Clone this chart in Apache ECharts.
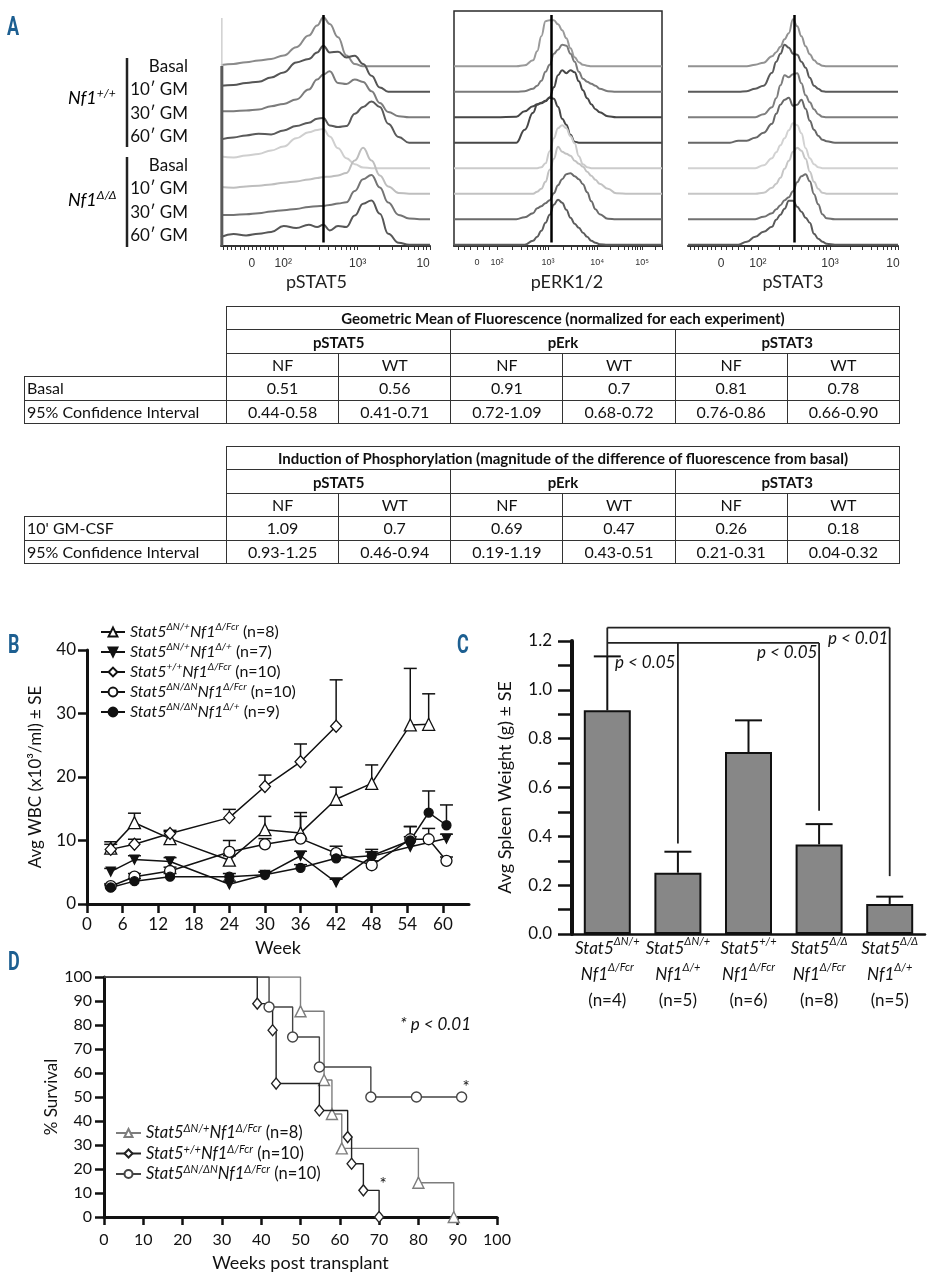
<!DOCTYPE html>
<html><head><meta charset="utf-8"><title>Figure</title>
<script src="https://cdn.jsdelivr.net/npm/echarts@6.0.0/dist/echarts.min.js"></script>
<style>
html,body{margin:0;padding:0;background:#fff;width:943px;height:1280px;overflow:hidden;}
#chart{position:absolute;left:0;top:0;width:943px;height:1280px;}
table.t{position:absolute;left:24px;width:875px;border-collapse:collapse;table-layout:fixed;font-family:Lato,"Open Sans",sans-serif;font-size:16px;color:#111;}
table.t td{border:1.5px solid #333;padding:0;text-align:center;white-space:nowrap;overflow:hidden;line-height:20px;}
table.t tr{height:23.4px;}
table.t td.e{border:none;}
table.t td.b{font-weight:bold;font-size:15px;}
table.t td.l{text-align:left;padding-left:2px;}
</style></head><body>
<div id="chart"></div>
<div id="tables"></div>
<script>
// ---------------- DATA ----------------
// Panel A histograms (heights above each trace's baseline; x in relative channel units 0-100)
const rowLabels = ['Basal', '10\u2032 GM', '30\u2032 GM', '60\u2032 GM', 'Basal', '10\u2032 GM', '30\u2032 GM', '60\u2032 GM'];
const stat5X = [0,6,12,18,24,30,36,42,46,49,52,56,60,64,68,72,76,80,85,90,95,100];
const stat5Traces = [
  [1.3,2.3,4,5.7,7.3,10.7,19,30.7,40.7,49,42.3,29,10.7,2.3,0,0,0,0,0,0,0,0],
  [6,6.7,8.7,10,14.3,19.3,29.3,32.7,39.3,46,39.3,40,34.3,36,27.7,16,4.3,0,0,0,0,0],
  [6,6,6.7,7.7,11,13.3,17.7,27.7,37.7,42.7,46,34.3,33.3,37.7,35.3,26,14.3,5.3,1,0,0,0],
  [3.3,5.3,7.3,9,8.3,12.3,16.7,20,24,24.7,17.3,15.7,16.7,29,35.7,41.3,35.7,19,5.7,0,0,0],
  [11.7,10.7,12.7,14.3,17.7,21.7,30,36,38.3,39.3,31.7,20,10,4,0.7,0,0,0,0,0,0,0],
  [6.7,6,7.3,8,9.3,11,12.3,14.3,15.7,16.7,17,18.3,20.7,33.3,46,33.3,18.3,7.3,0.7,0,0,0],
  [4.3,4.3,5,6,7.7,9,10.3,12.3,13,13.3,14.3,15.7,17,28.3,40,44.3,31.7,16.7,4.3,0.7,0,0],
  [7.7,10.7,9.3,11,12.7,18.7,16.7,20,17.7,20,14.3,18.7,17.7,29.3,41,44.3,31,11,2,0,0,0]
];
const stat5SpikeX = [0.4,0.4,0.4];
const stat5SpikeY = [0,180,228];
const erkX = [0,20,30,34,38,40,42,44,46,48,50,52,54,56,58,60,62,64,66,68,70,74,78,84,100];
const erkTraces = [
  [0,0,0,1,6,15,30,45,46,46,42,36,28,18,9,4,1.5,0.5,0,0,0,0,0,0,0],
  [0,0,0,0.5,3,6,11,20,27,38,42,47,46,38,30,20,13,10,8,6,3,0.5,0,0,0],
  [0,0,0.5,6,11,13,14,16,20,30,42,47,44,47,45,36,27,19,13,8,5,1,0,0,0],
  [0,0,0,13,30,38,40,42,45,44,36,24,18,8,1,0,0,0,0,0,0,0,0,0,0],
  [0,0,0,0,0,0,1,5,17,30,40,43,40,32,25,12,4,1,0,0,0,0,0,0,0],
  [0,0,0,0,0,2,5,12,24,35,47,42,40,38,33,30,27,22,18,14,10,5,0.5,0,0],
  [0,0,0,2,6,11,13,16,19,26,34,40,45,46,43,40,35,27,18,10,5,0.5,0,0,0],
  [0,0,0,0,4,8,14,22,30,40,45,42,35,27,21,17,12,8,4,2,0.5,0,0,0,0]
];
const stat3X = [0,20,24,28,32,36,40,42,44,46,48,50,52,54,56,58,60,62,64,66,70,100];
const stat3Traces = [
  [0,0,0,0,1.5,3.5,10,14,19.5,27,33,47,40,30,20,12,6,2.5,0.5,0,0,0],
  [0,0,0,0.5,3,6,19,30,38,47,44,38,37,30,24,14,6,3,0.5,0,0,0],
  [0,0,0,0,0,3,10,19,32,42,40,43,44,34,22,15,8,3,0.5,0,0,0],
  [0,0,2,2,5,10,19,29,38,43,45,37,38,43,34,22,13,7,3,1.5,0,0],
  [0,0,0,0,0,3,10,16,23,30,38,45,43,35,20,10,4,1,0,0,0,0],
  [0,0,0,0,0,1,6,10,16,25,33,42,46,43,35,22,12,5,1,0,0,0],
  [0,0,0,0,0,2.5,6,10,14,19,22,28,37,43,45,38,25,15,5,1,0,0],
  [0,0,0,3,8,13,18,25,30,36,44,44,38,33,27,22,11,6,3,1,0,0]
];
const medianX = [49, 46.6, 50.8];
const medianY = [3.5, 231];
const stat5Ticks = [1,3,5,7,9,11,13,15,17,19,21,23,25,27,29.8,40.5,46.8,51.2,54.7,57.5,59.9,62,63.8,65.4,75.8,81.9,86.2,89.6,92.3,94.6,96.6,98.4,100];
const stat5LabelX = [14.8,29.8,65.4,96.7];
const stat5Labels = ['0','10\u00b2','10\u00b3','10'];
const erkTicks = [2,5,8,11,14,17,20.7,28.1,32.4,35.4,37.8,39.8,41.4,42.8,44,45.2,52.3,56.5,59.4,61.7,63.6,65.1,66.5,67.6,68.8,75.3,79.1,81.8,83.9,85.6,87.1,88.3,89.4,90.4,96.9,100];
const erkLabelX = [11,20.7,45.2,68.8,90.4];
const erkLabels = ['0','10\u00b2','10\u00b3','10\u2074','10\u2075'];
const stat3Ticks = [1,3,5,7,9,11,13,15.7,18,21,24,27,30,33.3,43.6,49.7,53.9,57.3,60,62.3,64.3,66,67.6,77.4,83.1,87.1,90.2,92.8,94.9,96.8,98.5,100];
const stat3LabelX = [15.7,33.3,67.6,97.6];
const stat3Labels = ['0','10\u00b2','10\u00b3','10'];
const histNames = ['pSTAT5','pERK1/2','pSTAT3'];

// Tables
const tableGroups = ['pSTAT5','pErk','pSTAT3'];
const tableSubs = ['NF','WT'];
const t1Title = 'Geometric Mean of Fluorescence (normalized for each experiment)';
const t1Rows = ['Basal','95% Confidence Interval'];
const t1Values = [['0.51','0.56','0.91','0.7','0.81','0.78'],['0.44-0.58','0.41-0.71','0.72-1.09','0.68-0.72','0.76-0.86','0.66-0.90']];
const t2Title = 'Induction of Phosphorylation (magnitude of the difference of fluorescence from basal)';
const t2Rows = ['10\' GM-CSF','95% Confidence Interval'];
const t2Values = [['1.09','0.7','0.69','0.47','0.26','0.18'],['0.93-1.25','0.46-0.94','0.19-1.19','0.43-0.51','0.21-0.31','0.04-0.32']];

// Panel B (WBC)
const weekTicks = [0,6,12,18,24,30,36,42,48,54,60];
const bGeno = [['Stat5','\u0394N/+','Nf1','\u0394/Fcr'],['Stat5','\u0394N/+','Nf1','\u0394/+'],['Stat5','+/+','Nf1','\u0394/Fcr'],['Stat5','\u0394N/\u0394N','Nf1','\u0394/Fcr'],['Stat5','\u0394N/\u0394N','Nf1','\u0394/+']];
const bN = ['(n=8)','(n=7)','(n=10)','(n=10)','(n=9)'];
const bWeeks = [
  [4,8,14,24,30,36,42,48,54.5,57.6],
  [4,8,14,24,30,36,42,48,54.5,60.6],
  [4,8,14,24,30,36,42],
  [4,8,14,24,30,36,42,48,54.5,57.6,60.6],
  [4,8,14,24,30,36,42,48,54.5,57.6,60.6]
];
const bWbc = [
  [8.8,12.8,10.3,6.9,11.7,11.2,16.5,19.0,28.2,28.3],
  [5.1,7.0,6.7,3.1,4.6,7.6,3.4,7.5,9.0,10.3],
  [8.6,9.4,11.1,13.6,18.5,22.4,28.0],
  [2.8,4.3,5.2,8.2,9.4,10.3,8.0,6.1,10.2,10.2,6.8],
  [2.6,3.6,4.3,4.3,4.6,5.7,7.2,7.6,10.0,14.4,12.4]
];
const bSeTop = [
  [9.8,14.3,11.4,7.6,13.8,14.4,18.4,21.9,37.1,33.1],
  [5.6,7.6,7.3,3.6,5.1,8.3,3.9,8.2,10.6,11.0],
  [9.4,10.2,11.6,14.9,20.3,25.2,35.3],
  [3.2,4.8,5.8,10.0,10.3,13.8,9.1,6.8,12.2,11.9,7.4],
  [3.0,4.0,4.8,4.8,5.0,6.2,7.8,8.6,12.2,17.8,15.6]
];

// Panel C (spleen)
const cGeno = [['Stat5','\u0394N/+','Nf1','\u0394/Fcr'],['Stat5','\u0394N/+','Nf1','\u0394/+'],['Stat5','+/+','Nf1','\u0394/Fcr'],['Stat5','\u0394/\u0394','Nf1','\u0394/Fcr'],['Stat5','\u0394/\u0394','Nf1','\u0394/+']];
const cN = ['(n=4)','(n=5)','(n=6)','(n=8)','(n=5)'];
const spleenMean = [0.916,0.251,0.745,0.367,0.123];
const spleenSeTop = [1.137,0.337,0.875,0.450,0.153];
const bracketH = [[0,4,1.255],[0,3,1.192]];                       // [fromBar, toBar, level]
const bracketV = [[0,1.255,1.137],[4,1.255,0.237],[1,1.192,0.371],[3,1.192,0.505]]; // [bar, top, bottom]
const pLabels = ['p < 0.05','p < 0.05','p < 0.01'];

// Panel D (survival)
const dGeno = [['Stat5','\u0394N/+','Nf1','\u0394/Fcr'],['Stat5','+/+','Nf1','\u0394/Fcr'],['Stat5','\u0394N/\u0394N','Nf1','\u0394/Fcr']];
const dN = ['(n=8)','(n=10)','(n=10)'];
const dWeeks = [[0,50,56,58,60.5,80,89],[0,39,42.9,43.8,54.8,62,63,66,70],[0,42,48,54.8,67.9,79.5,91]];
const dSurvival = [[100,85.7,57.1,42.9,28.6,14.3,0],[100,88.9,77.8,55.6,44.4,33.3,22.2,11.1,0],[100,87.5,75,62.5,50,50,50]];

// ---------------- TABLES ----------------
function buildTable(top, title, rows, values){
  let h = '<table class="t" style="top:' + top + 'px">';
  h += '<colgroup><col style="width:202px">' + '<col style="width:112.17px">'.repeat(6) + '</colgroup>';
  h += '<tr><td class="e"></td><td colspan="6" class="b">' + title + '</td></tr>';
  h += '<tr><td class="e"></td>' + tableGroups.map(g => '<td colspan="2" class="b">' + g + '</td>').join('') + '</tr>';
  h += '<tr><td class="e"></td>' + tableGroups.map(() => tableSubs.map(s => '<td>' + s + '</td>').join('')).join('') + '</tr>';
  rows.forEach((r, k) => { h += '<tr><td class="l">' + r + '</td>' + values[k].map(v => '<td>' + v + '</td>').join('') + '</tr>'; });
  return h + '</table>';
}
document.getElementById('tables').innerHTML = buildTable(306, t1Title, t1Rows, t1Values) + buildTable(446, t2Title, t2Rows, t2Values);

// ---------------- CHART ----------------
const F = 'Lato, "Open Sans", sans-serif';
const INK = '#111';
function richSet(size, lh){
  return {
    i: {fontFamily: F, fontStyle: 'italic', fontSize: size, color: INK, lineHeight: lh},
    s: {fontFamily: F, fontStyle: 'italic', fontSize: Math.round(size * 0.64), color: INK, verticalAlign: 'top', lineHeight: Math.round(lh * 0.5)},
    n: {fontFamily: F, fontSize: size, color: INK, lineHeight: lh}
  };
}
function geno(p){ return '{i|' + p[0] + '}{s|' + p[1] + '}{i|' + p[2] + '}{s|' + p[3] + '}'; }
function nearestLabel(v, xs, labs){ let b = 0; xs.forEach((x, k) => { if (Math.abs(x - v) < Math.abs(xs[b] - v)) b = k; }); return labs[b]; }

const chart = echarts.init(document.getElementById('chart'), null, {width: 943, height: 1280});

const grids = [
  {left: 221, top: 11, width: 209, height: 235},
  {left: 454, top: 11, width: 208, height: 235, show: true, borderColor: '#2a2a2a', borderWidth: 1.5, backgroundColor: 'transparent'},
  {left: 688, top: 11, width: 210, height: 235},
  {left: 87, top: 650, width: 382, height: 254},
  {left: 572, top: 641, width: 353, height: 293},
  {left: 104, top: 977, width: 393, height: 240}
];

function histX(gi, ticks, labX, labs, name, fs, pad){
  return {type: 'value', gridIndex: gi, min: 0, max: 100, splitLine: {show: false},
    axisLine: {show: true, lineStyle: {color: '#333', width: 2}},
    axisTick: {show: true, customValues: ticks, length: 4, lineStyle: {color: '#333', width: 1}},
    axisLabel: {customValues: labX, formatter: v => nearestLabel(v, labX, labs), fontSize: fs, color: '#333', margin: 12, fontFamily: 'Liberation Sans, Arial, sans-serif'},
    name: name, nameLocation: 'middle', nameGap: 27, nameTextStyle: {fontSize: 18, color: '#222', fontFamily: F, padding: pad}};
}
const xAxes = [
  histX(0, stat5Ticks, stat5LabelX, stat5Labels, histNames[0], 12, [0, 18, 0, 0]),
  histX(1, erkTicks, erkLabelX, erkLabels, histNames[1], 9, [0, 0, 0, 18]),
  histX(2, stat3Ticks, stat3LabelX, stat3Labels, histNames[2], 12, [0, 0, 0, 0]),
  {type: 'value', gridIndex: 3, min: 0, max: 64.4, splitLine: {show: false},
    axisLine: {show: true, onZero: false, lineStyle: {color: INK, width: 3}},
    axisTick: {show: true, customValues: weekTicks, length: 9, lineStyle: {color: INK, width: 2.5}},
    axisLabel: {customValues: weekTicks, fontSize: 17, color: INK, margin: 12},
    name: 'Week', nameLocation: 'middle', nameGap: 35, nameTextStyle: {fontSize: 18, color: INK}},
  {type: 'category', gridIndex: 4, data: cGeno.map((g, k) => 'C' + k),
    axisLine: {show: true, lineStyle: {color: INK, width: 2.5}}, axisTick: {show: false},
    axisLabel: {interval: 0, margin: 2, formatter: (v, idx) => '{i|' + cGeno[idx][0] + '}{s|' + cGeno[idx][1] + '}\n{i|' + cGeno[idx][2] + '}{s|' + cGeno[idx][3] + '}\n{n|' + cN[idx] + '}', rich: richSet(17, 26)}},
  {type: 'value', gridIndex: 5, min: 0, max: 100, interval: 10, splitLine: {show: false},
    axisLine: {show: true, onZero: false, lineStyle: {color: INK, width: 3}},
    axisTick: {show: true, length: 8, lineStyle: {color: INK, width: 2.5}},
    axisLabel: {fontSize: 16, color: INK, margin: 15},
    name: 'Weeks post transplant', nameLocation: 'middle', nameGap: 37, nameTextStyle: {fontSize: 18, color: INK}}
];
const yAxes = [
  {type: 'value', gridIndex: 0, min: 0, max: 235, show: false},
  {type: 'value', gridIndex: 1, min: 0, max: 235, show: false},
  {type: 'value', gridIndex: 2, min: 0, max: 235, show: false},
  {type: 'value', gridIndex: 3, min: 0, max: 40, interval: 10, splitLine: {show: false},
    axisLine: {show: true, lineStyle: {color: INK, width: 3}},
    axisTick: {show: true, length: 9, lineStyle: {color: INK, width: 2.5}},
    axisLabel: {fontSize: 17, color: INK, margin: 11},
    name: 'Avg WBC (x10\u00b3/ml) \u00b1 SE', nameLocation: 'middle', nameGap: 43, nameTextStyle: {fontSize: 17, color: INK}},
  {type: 'value', gridIndex: 4, min: 0, max: 1.2, interval: 0.2, splitLine: {show: false},
    axisLine: {show: true, lineStyle: {color: INK, width: 4}},
    axisTick: {show: true, length: 14, lineStyle: {color: INK, width: 2.5}},
    minorTick: {show: true, splitNumber: 2, length: 14, lineStyle: {color: INK, width: 2.5}},
    axisLabel: {fontSize: 17, color: INK, margin: 20, formatter: v => v.toFixed(1)},
    name: 'Avg Spleen Weight (g) \u00b1 SE', nameLocation: 'middle', nameGap: 58, nameTextStyle: {fontSize: 18, color: INK}},
  {type: 'value', gridIndex: 5, min: 0, max: 100, interval: 10, splitLine: {show: false},
    axisLine: {show: true, lineStyle: {color: INK, width: 3}},
    axisTick: {show: true, length: 9, lineStyle: {color: INK, width: 2.5}},
    axisLabel: {fontSize: 16, color: INK, margin: 12},
    name: '% Survival', nameLocation: 'middle', nameGap: 40, nameTextStyle: {fontSize: 17, color: INK}}
];

const series = [];
const histColors = [
  ['#8a8a8a','#555555','#7c7c7c','#5a5a5a','#cfcfcf','#bebebe','#747474','#575757'],
  ['#9a9a9a','#7a7a7a','#474747','#474747','#cbcbcb','#c2c2c2','#6a6a6a','#5c5c5c'],
  ['#929292','#5a5a5a','#7e7e7e','#676767','#d2d2d2','#c6c6c6','#717171','#5a5a5a']
];
const rowGap = 25.5;
[[stat5X, stat5Traces], [erkX, erkTraces], [stat3X, stat3Traces]].forEach((h, p) => {
  h[1].forEach((tr, i) => {
    const base = (7 - i) * rowGap + 1.3;
    const s = {type: 'line', xAxisIndex: p, yAxisIndex: p, data: h[0].map((x, j) => [x, base + tr[j]]),
      symbol: 'none', smooth: 0.45, smoothMonotone: 'x', silent: true, lineStyle: {color: histColors[p][i], width: 2}, z: 2};
    if (i === 7) {
      s.markLine = {silent: true, symbol: 'none', label: {show: false}, lineStyle: {color: '#000', width: 2.5, type: 'solid'},
        data: [[{coord: [medianX[p], medianY[0]]}, {coord: [medianX[p], medianY[1]]}]]};
    }
    series.push(s);
  });
});
series.push({type: 'line', xAxisIndex: 0, yAxisIndex: 0, symbol: 'none', silent: true, z: 3,
  data: [[stat5SpikeX[0], stat5SpikeY[0]], [stat5SpikeX[1], stat5SpikeY[1]]], lineStyle: {color: '#5a5a5a', width: 3}});
series.push({type: 'line', xAxisIndex: 0, yAxisIndex: 0, symbol: 'none', silent: true, z: 3,
  data: [[stat5SpikeX[1], stat5SpikeY[1]], [stat5SpikeX[2], stat5SpikeY[2]]], lineStyle: {color: '#cfcfcf', width: 1.5}});

// error bar renderer
function errRender(capHalf, lw){
  return function(params, api){
    const p = api.coord([api.value(0), api.value(1)]);
    const q = api.coord([api.value(0), api.value(2)]);
    return {type: 'group', children: [
      {type: 'line', shape: {x1: p[0], y1: p[1], x2: q[0], y2: q[1]}, style: {stroke: INK, lineWidth: lw}},
      {type: 'line', shape: {x1: q[0] - capHalf, y1: q[1], x2: q[0] + capHalf, y2: q[1]}, style: {stroke: INK, lineWidth: lw}}
    ]};
  };
}

// Panel B
const bNames = bGeno.map((g, k) => 'B' + k);
const bSymbols = ['triangle', 'path://M0,0L10,0L5,9Z', 'diamond', 'circle', 'circle'];
const bSizes = [12, 9, [11, 12], 11, 9];
const bFill = ['#fff', INK, '#fff', '#fff', INK];
bWeeks.forEach((xs, k) => {
  series.push({type: 'custom', xAxisIndex: 3, yAxisIndex: 3, silent: true, z: 3, renderItem: errRender(6.5, 1.5),
    encode: {x: 0, y: [1, 2]}, data: xs.map((x, j) => [x, bWbc[k][j], bSeTop[k][j]])});
  series.push({type: 'line', name: bNames[k], xAxisIndex: 3, yAxisIndex: 3, data: xs.map((x, j) => [x, bWbc[k][j]]),
    symbol: bSymbols[k], symbolSize: bSizes[k], showAllSymbol: true,
    lineStyle: {color: INK, width: 1.5}, itemStyle: {color: bFill[k], borderColor: INK, borderWidth: 1.3}, z: 5});
});

// Panel C
series.push({type: 'bar', xAxisIndex: 4, yAxisIndex: 4, data: spleenMean, barWidth: 47, silent: true,
  itemStyle: {color: '#878787', borderColor: INK, borderWidth: 2}, z: 2});
series.push({type: 'custom', xAxisIndex: 4, yAxisIndex: 4, silent: true, z: 3, renderItem: errRender(13.5, 2),
  encode: {x: 0, y: [1, 2]}, data: spleenMean.map((m, k) => [k, m, spleenSeTop[k]])});
series.push({type: 'custom', xAxisIndex: 4, yAxisIndex: 4, silent: true, z: 4, clip: false,
  encode: {x: [0, 1], y: 2}, data: bracketH,
  renderItem: (params, api) => {
    const a = api.coord([api.value(0), api.value(2)]), b = api.coord([api.value(1), api.value(2)]);
    return {type: 'line', shape: {x1: a[0], y1: a[1], x2: b[0], y2: b[1]}, style: {stroke: '#222', lineWidth: 1.8}};
  }});
series.push({type: 'custom', xAxisIndex: 4, yAxisIndex: 4, silent: true, z: 4, clip: false,
  encode: {x: 0, y: [1, 2]}, data: bracketV,
  renderItem: (params, api) => {
    const a = api.coord([api.value(0), api.value(1)]), b = api.coord([api.value(0), api.value(2)]);
    return {type: 'line', shape: {x1: a[0], y1: a[1], x2: b[0], y2: b[1]}, style: {stroke: '#222', lineWidth: 1.8}};
  }});

// Panel D
const dNames = dGeno.map((g, k) => 'D' + k);
const dSymbols = ['triangle', 'diamond', 'circle'];
const dSizes = [11, [9, 11], 10];
const dColors = ['#7d7d7d', '#222', '#444'];
dWeeks.forEach((xs, k) => {
  series.push({type: 'line', name: dNames[k], xAxisIndex: 5, yAxisIndex: 5, step: 'end',
    data: xs.map((x, j) => j === 0 ? {value: [x, dSurvival[k][j]], symbol: 'none'} : [x, dSurvival[k][j]]),
    symbol: dSymbols[k], symbolSize: dSizes[k], showAllSymbol: true,
    lineStyle: {color: dColors[k], width: 1.4}, itemStyle: {color: '#fff', borderColor: dColors[k], borderWidth: 1.4}, z: 5 + k});
});

// legends
const legendB = {data: bNames, left: 100, top: 622, orient: 'vertical', itemGap: 2, itemWidth: 24, itemHeight: 11, padding: 0,
  selectedMode: false, formatter: name => { const k = bNames.indexOf(name); return geno(bGeno[k]) + '{n| ' + bN[k] + '}'; },
  textStyle: {fontSize: 16, rich: richSet(16, 20)}};
const legendD = {data: dNames, left: 115, top: 1123, orient: 'vertical', itemGap: 2, itemWidth: 25, itemHeight: 10, padding: 0,
  selectedMode: false, formatter: name => { const k = dNames.indexOf(name); return geno(dGeno[k]) + '{n| ' + dN[k] + '}'; },
  textStyle: {fontSize: 16.5, rich: richSet(16.5, 20)}};

// graphics (labels / annotations)
const graphic = [];
[['A', 7, 29], ['B', 8, 647], ['C', 457, 647], ['D', 8, 964]].forEach(l => graphic.push({type: 'text', x: l[1], y: l[2], scaleX: 0.72,
  style: {text: l[0], fontFamily: 'Roboto, sans-serif', fontWeight: 'bold', fontSize: 25, fill: '#1d5f91', align: 'left', verticalAlign: 'middle'}}));
rowLabels.forEach((t, k) => graphic.push({type: 'text', x: 188, y: (k < 4 ? 66.7 + k * 23.3 : 165.7 + (k - 4) * 23.3),
  style: {text: t, fontFamily: F, fontSize: 17, fill: INK, align: 'right', verticalAlign: 'middle'}}));
[[58, 147], [157, 247]].forEach(b => graphic.push({type: 'line', shape: {x1: 127, y1: b[0], x2: 127, y2: b[1]}, style: {stroke: '#222', lineWidth: 2.5}}));
[['+/+', 98], ['\u0394/\u0394', 200]].forEach(g => graphic.push({type: 'text', x: 68, y: g[1],
  style: {text: '{i|Nf1}{s|' + g[0] + '}', rich: richSet(18, 22), align: 'left', verticalAlign: 'middle'}}));
[[615, 663], [757, 653], [828, 639]].forEach((p, k) => graphic.push({type: 'text', x: p[0], y: p[1],
  style: {text: pLabels[k], fontFamily: F, fontStyle: 'italic', fontSize: 17, fill: INK, align: 'left', verticalAlign: 'middle'}}));
graphic.push({type: 'text', x: 400, y: 1025, style: {text: '* p < 0.01', fontFamily: F, fontStyle: 'italic', fontSize: 17, fill: INK, align: 'left', verticalAlign: 'middle'}});
graphic.push({type: 'text', x: 466, y: 1088, style: {text: '*', fontFamily: F, fontSize: 17, fill: INK, align: 'center', verticalAlign: 'middle'}});
graphic.push({type: 'text', x: 383, y: 1185, style: {text: '*', fontFamily: F, fontSize: 17, fill: INK, align: 'center', verticalAlign: 'middle'}});

chart.setOption({
  animation: false,
  textStyle: {fontFamily: F},
  grid: grids, xAxis: xAxes, yAxis: yAxes,
  legend: [legendB, legendD],
  series: series,
  graphic: graphic
});
</script>
</body></html>
